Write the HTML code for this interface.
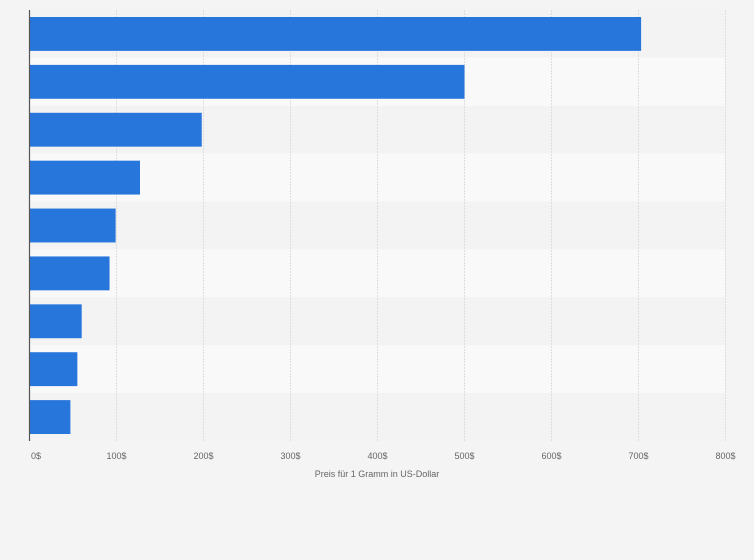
<!DOCTYPE html>
<html><head><meta charset="utf-8"><style>
body{margin:0;background:#f4f4f4;font-family:"Liberation Sans",sans-serif}
svg{display:block}
</style></head><body>
<svg width="754" height="560">
<rect width="754" height="560" fill="#f4f4f4"/>
<g id="bands"></g><g id="grid"></g><g id="bars"></g><g id="ticks"></g>
<line x1="29.5" y1="10" x2="29.5" y2="441" stroke="#555" stroke-width="1.2"/>
<text x="377" y="477" font-size="9" fill="#666" text-anchor="middle">Preis für 1 Gramm in US-Dollar</text>
</svg>
<script>
const categories=["A","B","C","D","E","F","G","H","I"];
const values=[703,500,198,127,99,92,60,55,47];
const tickValues=[0,100,200,300,400,500,600,700,800];
const tickLabels=["0$","100$","200$","300$","400$","500$","600$","700$","800$"];
const NS="http://www.w3.org/2000/svg";
const x0=29.5,x1=725.5,xmax=800,yTop=10,yBottom=441;
const xs=v=>x0+(x1-x0)*v/xmax;
const rowH=(yBottom-yTop)/categories.length;
const ys=i=>yTop+i*rowH;
function mk(t,a,p){const e=document.createElementNS(NS,t);for(const k in a)e.setAttribute(k,a[k]);p.appendChild(e);return e;}
const bands=document.getElementById('bands'),grid=document.getElementById('grid'),bars=document.getElementById('bars'),ticks=document.getElementById('ticks');
categories.forEach((c,i)=>{
 const r=mk('rect',{x:x0,y:ys(i),width:x1-x0,height:rowH,fill:i%2?'#f9f9f9':'#f3f3f3'},bands);
 
 
});
tickValues.forEach((v,i)=>{
 if(v>0){const l=mk('line',{x1:xs(v),x2:xs(v),y1:yTop,y2:yBottom,stroke:'#ddd','stroke-dasharray':'2,1'},grid);
 
 }
 const t=mk('text',{x:v===0?xs(v)+1.5:xs(v),y:459,'font-size':9,fill:'#666','text-anchor':v===0?'start':'middle'},ticks);
 t.textContent=tickLabels[i];
 
 
});
values.forEach((v,i)=>{
 const b=mk('rect',{x:x0+0.5,y:ys(i)+7,width:xs(v)-x0-0.5,height:rowH-14,fill:'#2776dc'},bars);
 
 
});
</script>
</body></html>
